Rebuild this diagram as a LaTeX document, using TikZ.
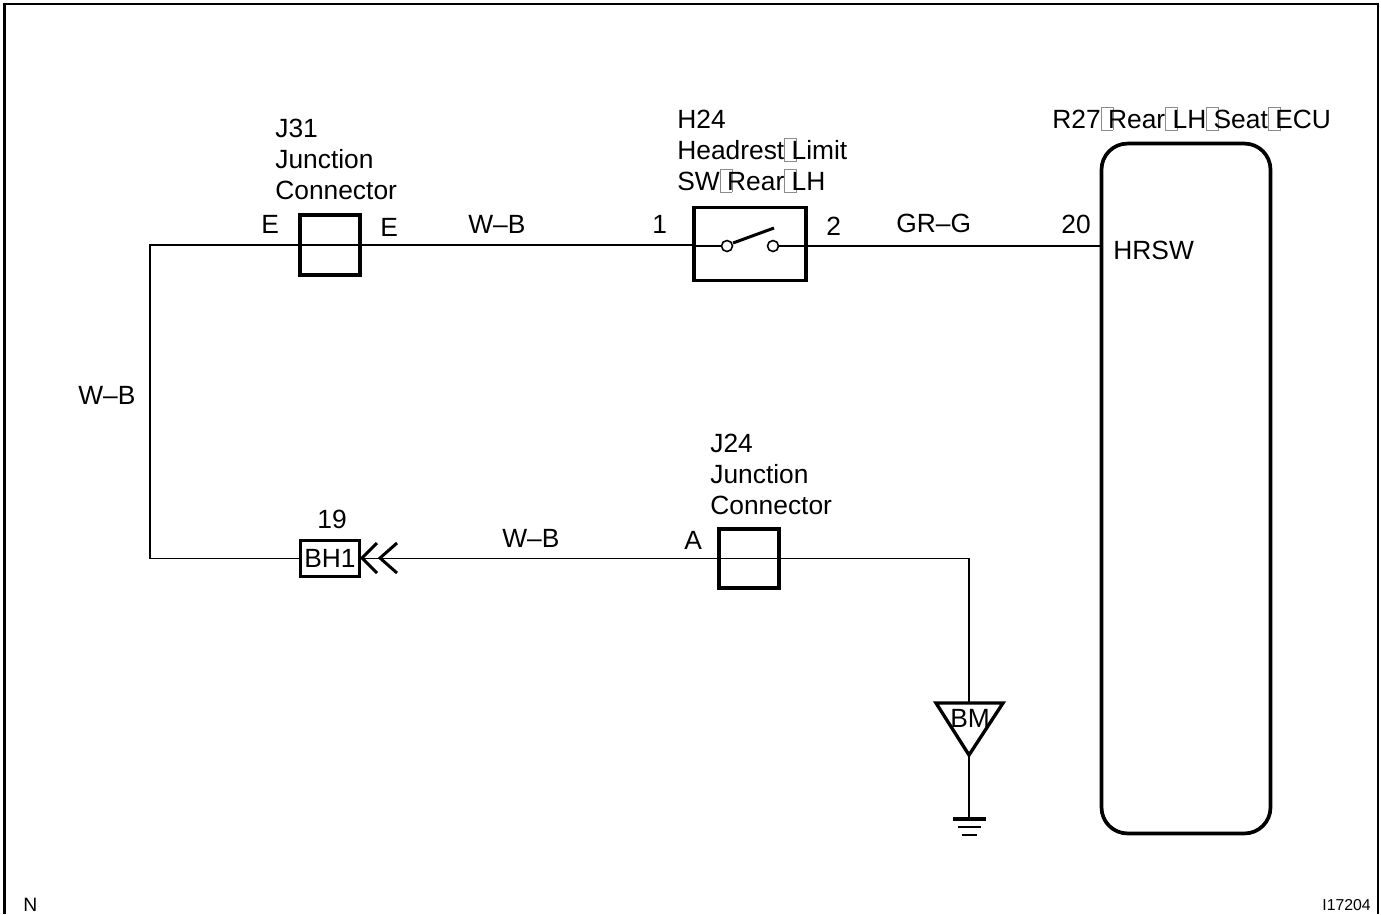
\documentclass[tikz,border=0pt]{standalone}
\usepackage{fontspec}
\setmainfont{Liberation Sans}
\usetikzlibrary{positioning}
\newcommand{\tofu}{\makebox[0pt][l]{\raisebox{-0.06em}{\color{black!45}\setlength{\fboxsep}{0pt}\setlength{\fboxrule}{0.3pt}\fbox{\phantom{\rule{0.44em}{0.84em}}}}}\hspace{0.28em}}

\begin{document}
\begin{tikzpicture}[
        x=0.02cm, y=-0.02cm,
        every node/.style={font=\fontsize{15}{17.6}\selectfont, inner sep=0pt},
        label/.style={anchor=base west, align=left},
        wire/.style={line width=1.1pt},
        frame/.style={line width=1.5pt},
        part/.style={draw, line width=2.1pt},
    ]
    \useasboundingbox (0,0) rectangle (1381,914);

    % Frame
    \draw[frame] (4.5,914) -- (4.5,4) -- (1378,4) -- (1378,914);

    % Coordinates
    \coordinate (corner1) at (150,245);
    \coordinate (corner2) at (150,558.5);
    \coordinate (corner3) at (969,558.5);

    % Parts
    \node[part, minimum width=1.2cm, minimum height=1.2cm] (j31) at (330,245) {};
    \node[part, minimum width=2.24cm, minimum height=1.46cm] (h24) at (750,244) {};
    \node[part, minimum width=3.38cm, minimum height=13.8cm, rounded corners=0.52cm] (ecu) at (1186,488.5) {};
    \node[part, minimum width=1.2cm, minimum height=1.18cm] (j24) at (749,558.5) {};
    \node[part, minimum width=1.18cm, minimum height=0.72cm] (bh1) at (330,558.5) {BH1};

    % Switch
    \node[draw, circle, line width=0.9pt, minimum size=0.22cm] (sw1) at (727,246) {};
    \node[draw, circle, line width=0.9pt, minimum size=0.22cm] (sw2) at (773,246) {};
    \coordinate (swstart) at (733,243);
    \coordinate (swend) at (774,228);

    % Ground
    \coordinate (bmtop) at (969,703);
    \coordinate (bmtip) at (969,755);
    \coordinate (gnd) at (969,819);

    % Wires
    \draw[wire] (h24.west |- j31) -- (corner1) -- (corner2) -- (bh1);
    \draw[wire] (h24.west |- sw1) -- (sw1);
    \draw[wire] (sw2) -- (h24.east |- sw2);
    \draw[wire] (h24.east |- sw2) -- (ecu.west |- sw2);
    \draw[wire] (bh1) -- (j24.center) -- (corner3) -- (bmtop);
    \draw[line width=1.7pt] (swstart) -- (swend);
    \draw[line width=1.5pt] (bmtip) -- (gnd);

    % Contact
    \draw[line width=1.7pt] (377,543) -- (362,558) -- (377,573);
    \draw[line width=1.7pt] (397,543) -- (380,558) -- (397,573);

    % Ground mark
    \draw[line width=1.9pt, line join=miter] (936,703) -- (1003,703) -- (bmtip) -- cycle;
    \node (bm) at (970,718) {BM};
    \draw[line width=2.2pt] (953,819) -- (986,819);
    \draw[line width=1.1pt] (958,827) -- (981,827);
    \draw[line width=1.1pt] (962,835) -- (977,835);

    % Labels
    \node[label] (j31txt) at (275,199) {J31\\Junction\\Connector};
    \node[label] (h24txt) at (677,190) {H24\\Headrest\tofu Limit\\SW\tofu Rear\tofu LH};
    \node[label] (ecutxt) at (1052,128) {R27\tofu Rear\tofu LH\tofu Seat\tofu ECU};
    \node[label] (j24txt) at (710,514) {J24\\Junction\\Connector};
    \node[label] (pin19) at (317,528) {19};
    \node[label] (pine1) at (261,233) {E};
    \node[label] (pine2) at (380,236) {E};
    \node[label] (pin1) at (652,233) {1};
    \node[label] (pin2) at (826,235) {2};
    \node[label] (pin20) at (1061,233) {20};
    \node[label] (pina) at (684,549) {A};
    \node[label] (hrsw) at (1113,259) {HRSW};
    \node[label] (wb1) at (468,233) {W--B};
    \node[label] (wb2) at (78,404) {W--B};
    \node[label] (wb3) at (502,547) {W--B};
    \node[label] (grg) at (896,232) {GR--G};
    \node[label, font=\fontsize{11}{13}\selectfont] (nmark) at (23,911) {N};
    \node[label, font=\fontsize{9}{11}\selectfont] (imgno) at (1322,910) {I17204};
\end{tikzpicture}
\end{document}
